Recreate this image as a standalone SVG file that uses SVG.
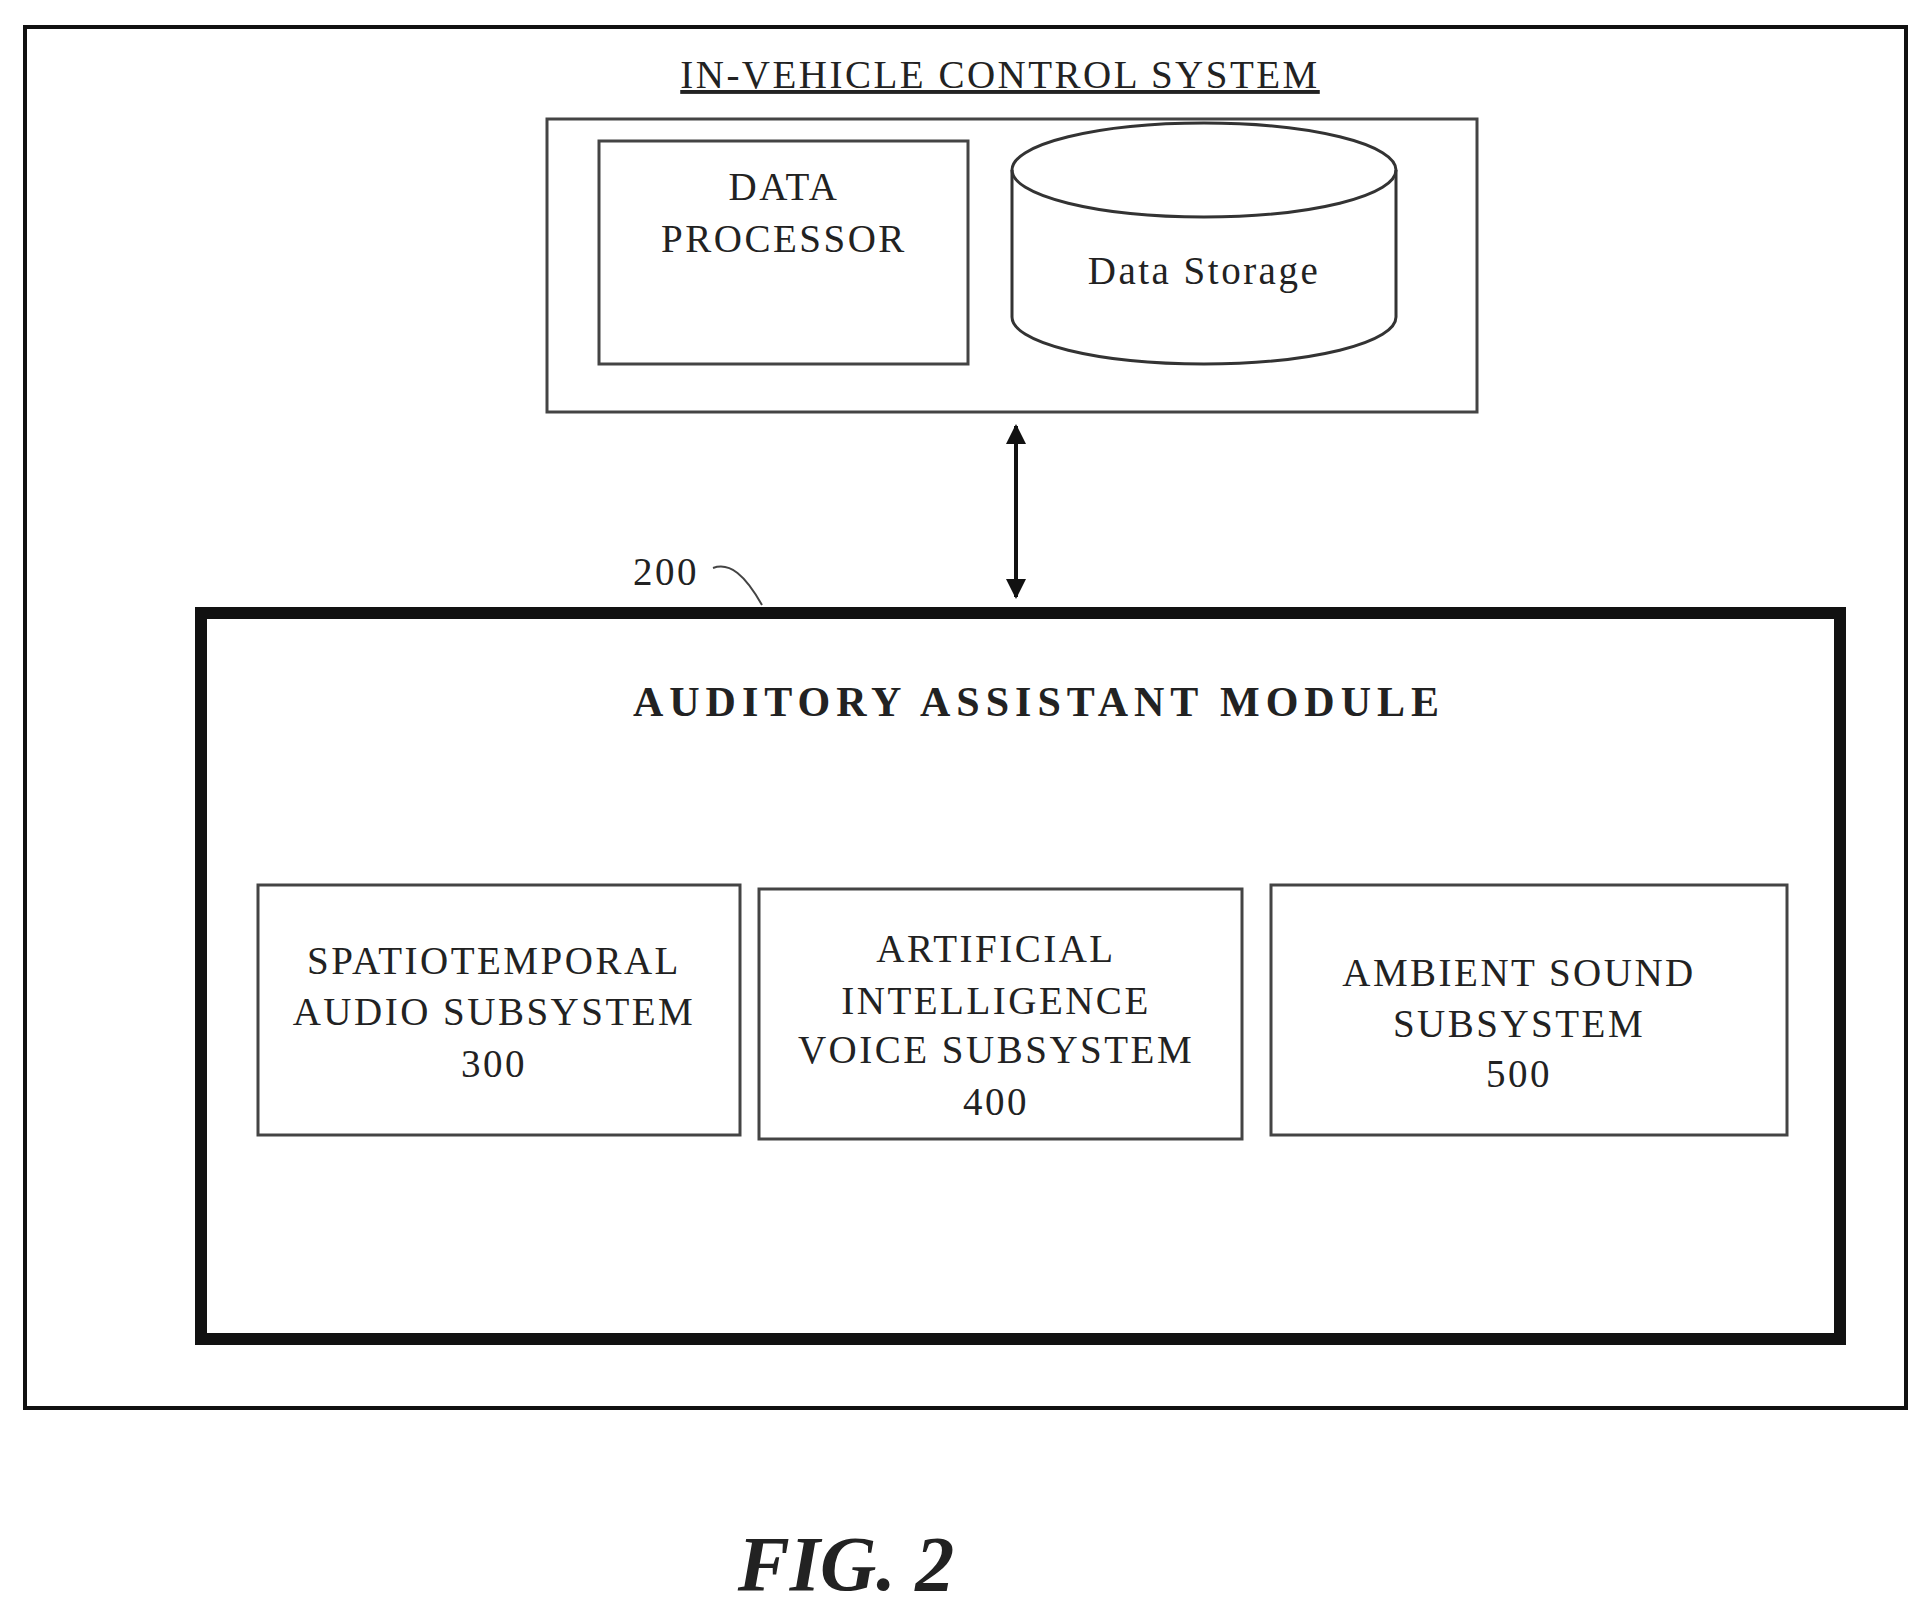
<svg xmlns="http://www.w3.org/2000/svg" width="1928" height="1617" viewBox="0 0 1928 1617">
<style>
text{font-family:"Liberation Serif","Times New Roman",serif;fill:#222;text-anchor:middle}
.t{font-size:39px;letter-spacing:2.5px}
.box{fill:#fff;stroke:#444;stroke-width:3}
</style>
<defs>
<marker id="ah" viewBox="0 0 10 10" refX="9" refY="5" markerWidth="5" markerHeight="5" orient="auto-start-reverse"><path d="M0,0L10,5L0,10z" fill="#111"/></marker>
</defs>
<rect width="1928" height="1617" fill="#fff"/>
<g id="outer"><rect x="25" y="27" width="1881" height="1381" fill="none" stroke="#111" stroke-width="4"/></g>
<g id="ivcs">
<text class="t" x="1000" y="88" text-decoration="underline">IN-VEHICLE CONTROL SYSTEM</text>
<rect class="box" x="547" y="119" width="930" height="293"/>
</g>
<g id="dp"><rect class="box" x="599" y="141" width="369" height="223"/>
<text class="t" x="784" y="200">DATA</text><text class="t" x="784" y="252">PROCESSOR</text></g>
<g id="ds">
<path d="M1012,170 A192,47 0 0 1 1396,170 V317 A192,47 0 0 1 1012,317 Z" fill="#fff" stroke="#333" stroke-width="3"/>
<path d="M1012,170 A192,47 0 0 0 1396,170" fill="none" stroke="#333" stroke-width="3"/>
<text class="t" x="1204" y="284" letter-spacing="1">Data Storage</text></g>
<g id="connectors">
<line x1="1016" y1="426" x2="1016" y2="597" stroke="#111" stroke-width="4" marker-start="url(#ah)" marker-end="url(#ah)"/>
<path d="M713,568 C730,562 745,575 762,605" fill="none" stroke="#444" stroke-width="2"/>
</g>
<text class="t" x="666" y="585">200</text>
<g id="aam">
<rect x="201" y="613" width="1639" height="726" fill="#fff" stroke="#111" stroke-width="12"/>
<line x1="1842" y1="610" x2="1842" y2="1345" stroke="#111" stroke-width="8"/>
<line x1="197" y1="1341" x2="1846" y2="1341" stroke="#111" stroke-width="6"/>
<text x="1039" y="716" font-size="42" font-weight="bold" letter-spacing="6">AUDITORY ASSISTANT MODULE</text>
</g>
<g id="s300"><rect class="box" x="258" y="885" width="482" height="250"/>
<text class="t" x="494" y="974">SPATIOTEMPORAL</text><text class="t" x="494" y="1025">AUDIO SUBSYSTEM</text><text class="t" x="494" y="1077">300</text></g>
<g id="s400"><rect class="box" x="759" y="889" width="483" height="250"/>
<text class="t" x="996" y="962">ARTIFICIAL</text><text class="t" x="996" y="1014">INTELLIGENCE</text><text class="t" x="996" y="1063">VOICE SUBSYSTEM</text><text class="t" x="996" y="1115">400</text></g>
<g id="s500"><rect class="box" x="1271" y="885" width="516" height="250"/>
<text class="t" x="1519" y="986">AMBIENT SOUND</text><text class="t" x="1519" y="1037">SUBSYSTEM</text><text class="t" x="1519" y="1087">500</text></g>
<text x="846" y="1590" font-size="78" font-weight="bold" font-style="italic" fill="#111">FIG. 2</text>
</svg>
